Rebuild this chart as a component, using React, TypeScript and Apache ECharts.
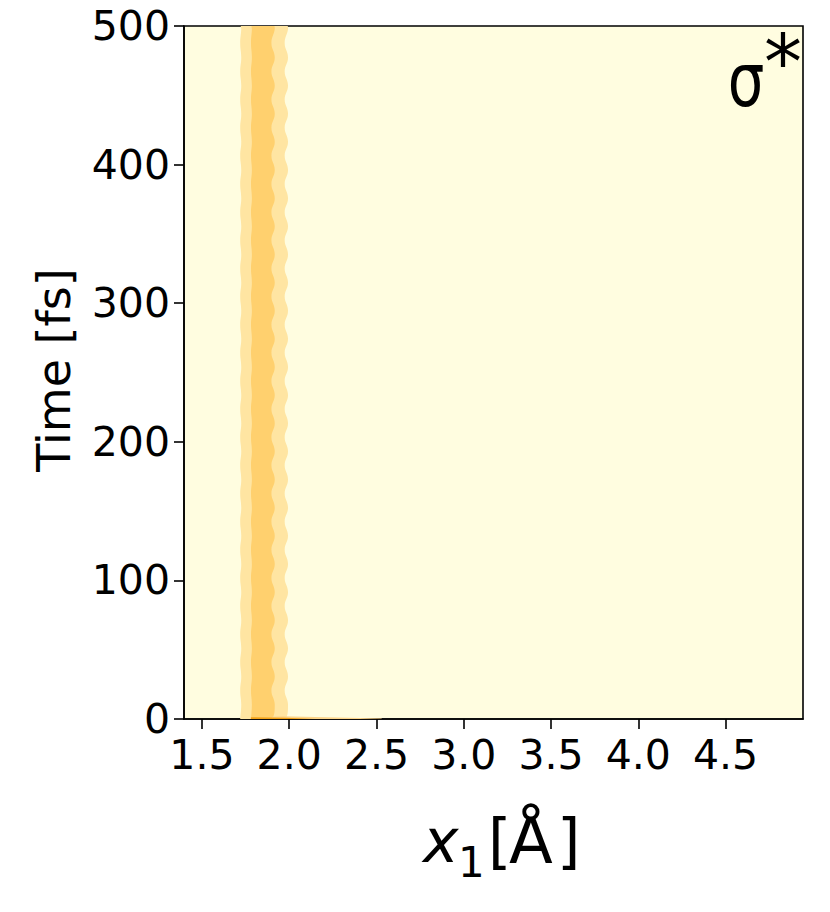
import { useEffect, useRef } from "react";
import * as echarts from "echarts";

// ---- data ----
const xTicks = [1.5, 2.0, 2.5, 3.0, 3.5, 4.0, 4.5];
const yTicks = [0, 100, 200, 300, 400, 500];
const xRange = [1.397, 4.944];
const yRange = [0, 500];

// time samples at wave troughs / crests of the band edges (fs)
const times = [
  0, 10.4, 20.6, 30.7, 40.9, 51.0, 61.2, 71.3, 81.5, 91.6, 101.8, 111.9, 122.1,
  132.2, 142.4, 152.5, 162.7, 172.8, 183.0, 193.1, 203.3, 213.4, 223.6, 233.7,
  243.9, 254.0, 264.2, 274.3, 284.5, 294.6, 304.8, 314.9, 325.1, 335.2, 345.4,
  355.5, 365.7, 375.8, 386.0, 396.1, 406.3, 416.4, 426.6, 436.7, 446.9, 457.0,
  467.2, 477.3, 487.5, 497.6, 500,
];
// outer (light) contour band edges, x1 in Å
const outerLeft = [
  1.719, 1.725, 1.719, 1.725, 1.719, 1.725, 1.719, 1.725, 1.719, 1.725, 1.719,
  1.725, 1.719, 1.725, 1.719, 1.725, 1.719, 1.725, 1.719, 1.725, 1.719, 1.725,
  1.719, 1.725, 1.719, 1.725, 1.719, 1.725, 1.719, 1.725, 1.719, 1.725, 1.719,
  1.725, 1.719, 1.725, 1.719, 1.725, 1.719, 1.725, 1.719, 1.725, 1.719, 1.725,
  1.719, 1.725, 1.719, 1.725, 1.719, 1.725, 1.724,
];
const outerRight = [
  1.975, 1.993, 1.974, 1.993, 1.974, 1.993, 1.974, 1.993, 1.974, 1.993, 1.974,
  1.993, 1.974, 1.993, 1.974, 1.993, 1.974, 1.993, 1.974, 1.993, 1.974, 1.993,
  1.974, 1.993, 1.974, 1.993, 1.974, 1.993, 1.974, 1.993, 1.974, 1.993, 1.974,
  1.993, 1.974, 1.993, 1.974, 1.993, 1.974, 1.993, 1.974, 1.993, 1.974, 1.993,
  1.974, 1.993, 1.974, 1.993, 1.974, 1.993, 1.991,
];
// inner (darker) contour band edges, x1 in Å
const innerLeft = [
  1.781, 1.786, 1.781, 1.786, 1.781, 1.786, 1.781, 1.786, 1.781, 1.786, 1.781,
  1.786, 1.781, 1.786, 1.781, 1.786, 1.781, 1.786, 1.781, 1.786, 1.781, 1.786,
  1.781, 1.786, 1.781, 1.786, 1.781, 1.786, 1.781, 1.786, 1.781, 1.786, 1.781,
  1.786, 1.781, 1.786, 1.781, 1.786, 1.781, 1.786, 1.781, 1.786, 1.781, 1.786,
  1.781, 1.786, 1.781, 1.786, 1.781, 1.786, 1.785,
];
const innerRight = [
  1.899, 1.917, 1.898, 1.917, 1.898, 1.917, 1.898, 1.917, 1.898, 1.917, 1.898,
  1.917, 1.898, 1.917, 1.898, 1.917, 1.898, 1.917, 1.898, 1.917, 1.898, 1.917,
  1.898, 1.917, 1.898, 1.917, 1.898, 1.917, 1.898, 1.917, 1.898, 1.917, 1.898,
  1.917, 1.898, 1.917, 1.898, 1.917, 1.898, 1.917, 1.898, 1.917, 1.898, 1.917,
  1.898, 1.917, 1.898, 1.917, 1.898, 1.917, 1.915,
];
// thin initial-time sliver along t = 0
const sliverLightX = [1.9, 2.53, 2.53, 1.96, 1.9];
const sliverLightT = [0, 0, 0.3, 1.9, 1.6];
const sliverDarkX = [1.78, 2.15, 1.98, 1.78];
const sliverDarkT = [0, 0, 0.9, 1.3];

const COLORS = {
  bg: "#FFFDE0",
  light: "#FFE5A2",
  dark: "#FFD06E",
  sliverLight: "#FCD58A",
  sliverDark: "#F2A218",
};

const FONT = '"DejaVu Sans", "Noto Sans", sans-serif';

function polygonFrom(xs: number[], ts: number[], api: any, color: string, smooth: number) {
  const pts = xs.map((x, i) => api.coord([x, ts[i]]));
  let minX = Infinity, minY = Infinity, maxX = -Infinity, maxY = -Infinity;
  pts.forEach((p: number[]) => {
    minX = Math.min(minX, p[0]); maxX = Math.max(maxX, p[0]);
    minY = Math.min(minY, p[1]); maxY = Math.max(maxY, p[1]);
  });
  return {
    type: "polygon",
    shape: { points: pts, smooth, smoothConstraint: [[minX, minY], [maxX, maxY]] },
    style: { fill: color, stroke: null },
    silent: true,
  };
}

function bandPolygon(left: number[], right: number[], api: any, color: string) {
  const xs: number[] = [];
  const ts: number[] = [];
  for (let i = 0; i < times.length; i++) { xs.push(left[i]); ts.push(times[i]); }
  for (let i = times.length - 1; i >= 0; i--) { xs.push(right[i]); ts.push(times[i]); }
  return polygonFrom(xs, ts, api, color, 0.45);
}

const txt = (text: string, x: number, y: number, fontSize: number, align: string, extra: any = {}, styleExtra: any = {}) => ({
  type: "text", x, y, z: 10, ...extra,
  style: {
    text, fontSize, fontFamily: FONT, fill: "#000",
    align, verticalAlign: "middle", textAlign: align, textVerticalAlign: "middle",
    ...styleExtra,
  },
});

export default function App() {
  const ref = useRef<HTMLDivElement>(null);
  useEffect(() => {
    if (!ref.current) return;
    const chart = echarts.init(ref.current, undefined, { renderer: "svg" });
    const option: any = {
      animation: false,
      backgroundColor: "#ffffff",
      grid: {
        left: 184, top: 26, width: 619, height: 693,
        show: true, backgroundColor: COLORS.bg, borderColor: "#000", borderWidth: 1.6,
        containLabel: false, outerBoundsMode: "none",
      },
      xAxis: {
        type: "value", min: xRange[0], max: xRange[1],
        axisLine: { show: true, onZero: false, lineStyle: { color: "#000", width: 1.6 } },
        axisTick: { show: true, length: 10, customValues: xTicks, lineStyle: { color: "#000", width: 1.6 } },
        axisLabel: {
          customValues: xTicks, formatter: (v: number) => v.toFixed(1),
          fontSize: 41, fontFamily: FONT, color: "#000", margin: 15,
        },
        splitLine: { show: false },
      },
      yAxis: {
        type: "value", min: yRange[0], max: yRange[1], interval: 100,
        axisLine: { show: true, onZero: false, lineStyle: { color: "#000", width: 1.6 } },
        axisTick: { show: true, length: 10, customValues: yTicks, lineStyle: { color: "#000", width: 1.6 } },
        axisLabel: {
          customValues: yTicks,
          fontSize: 41, fontFamily: FONT, color: "#000", margin: 14,
        },
        splitLine: { show: false },
      },
      series: [
        {
          type: "custom", coordinateSystem: "cartesian2d", clip: true, silent: true,
          data: [[0, 0]],
          renderItem: (_p: any, api: any) => ({
            type: "group",
            children: [
              bandPolygon(outerLeft, outerRight, api, COLORS.light),
              bandPolygon(innerLeft, innerRight, api, COLORS.dark),
              polygonFrom(sliverLightX, sliverLightT, api, COLORS.sliverLight, 0),
              polygonFrom(sliverDarkX, sliverDarkT, api, COLORS.sliverDark, 0),
            ],
          }),
          z: 2,
        },
      ],
      graphic: [
        txt("Time [fs]", 54, 370, 46, "center", { rotation: Math.PI / 2 }),
        txt("x", 423, 841, 60, "left", {}, { fontStyle: "italic" }),
        txt("1", 458, 862, 42, "left"),
        txt("[", 488, 841, 60, "left"),
        txt("Å", 531, 841, 64, "center"),
        txt("]", 557, 841, 60, "left"),
        txt("σ", 746, 80, 74, "center", { scaleX: 0.78 }),
        txt("*", 783, 62, 76, "center"),
      ],
    };
    chart.setOption(option);
    return () => chart.dispose();
  }, []);
  return <div ref={ref} style={{ position: "fixed", left: 0, top: 0, width: 830, height: 912 }} />;
}
